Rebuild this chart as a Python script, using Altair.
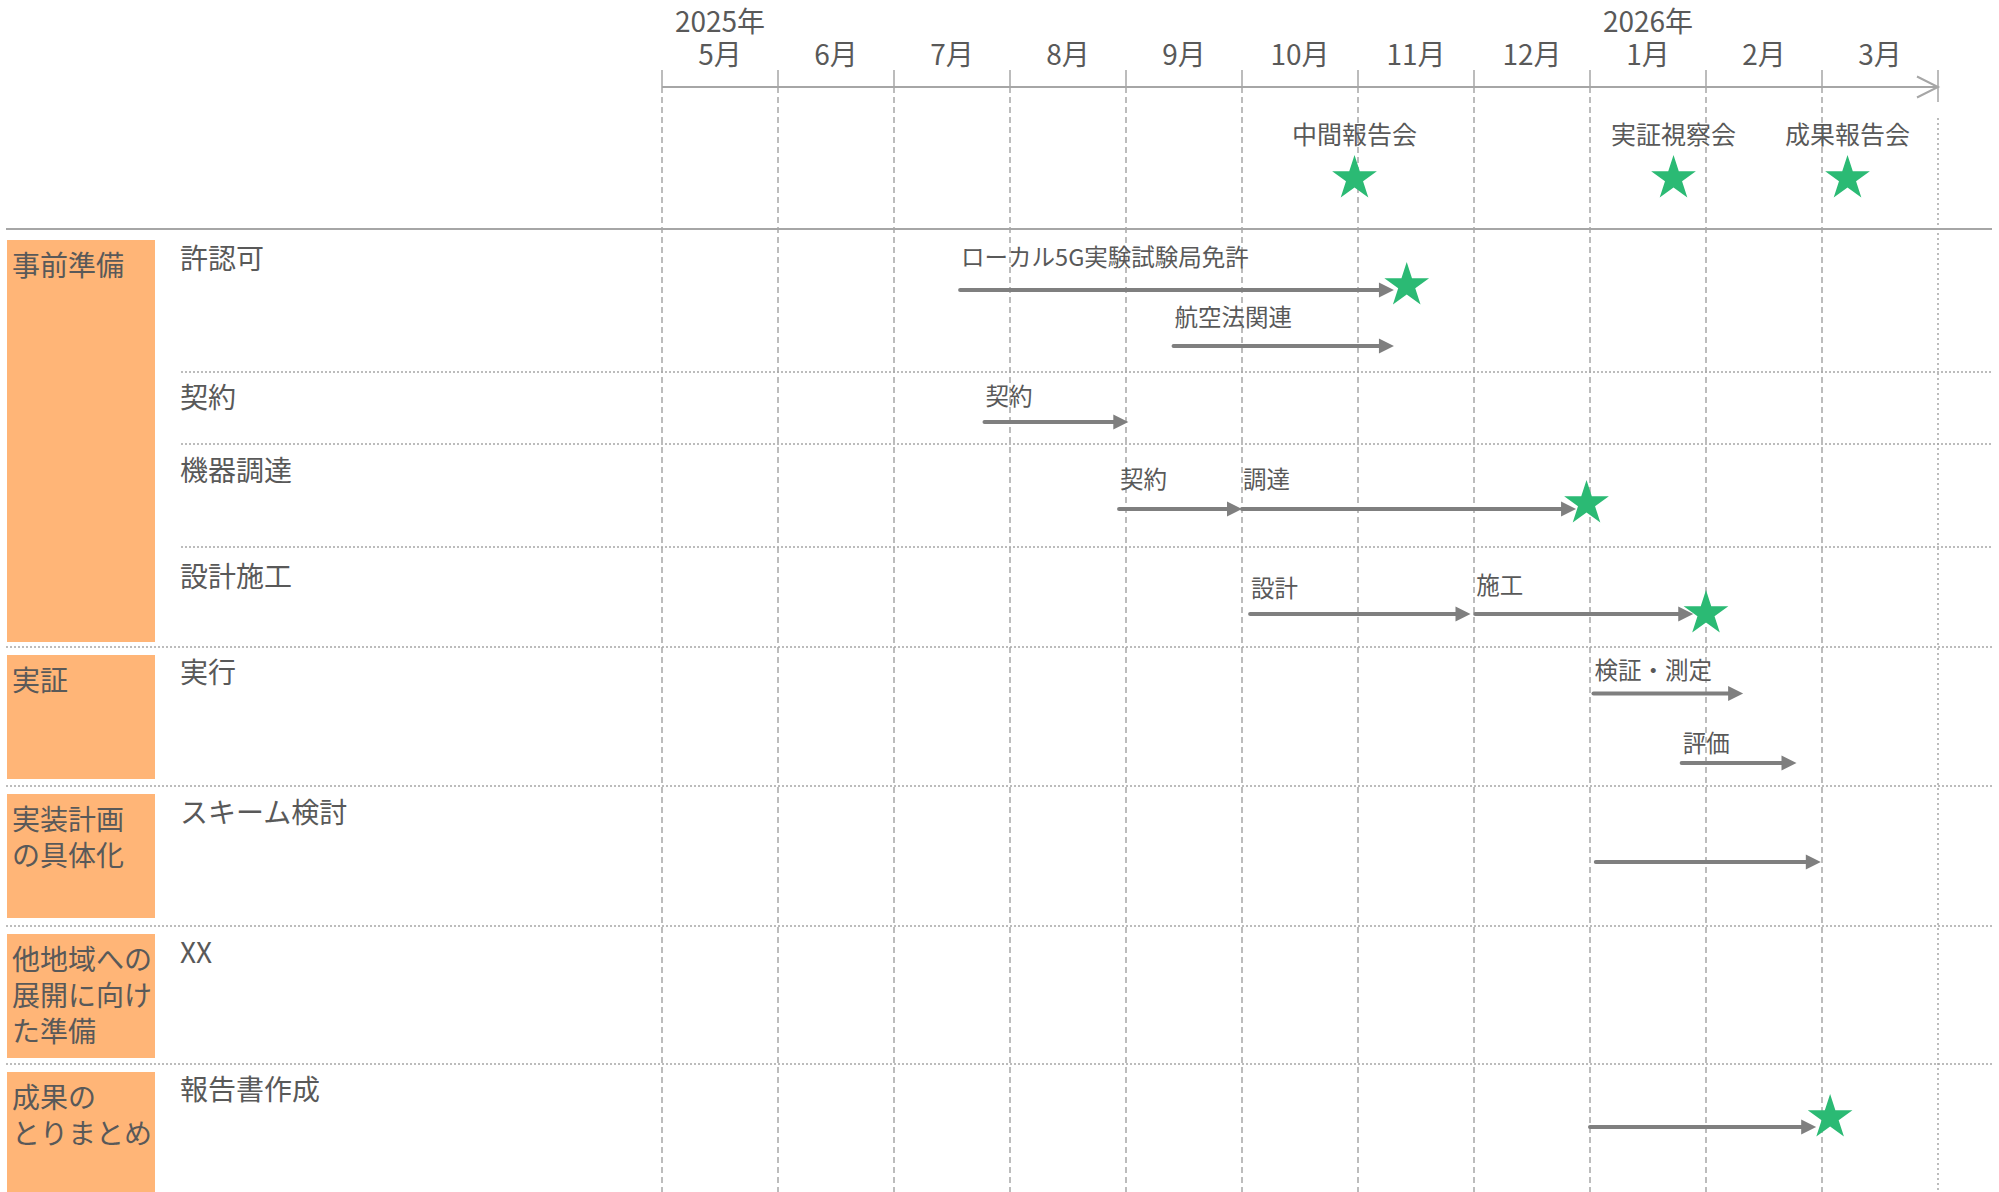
import math
import altair as alt
import pandas as pd

# ---------------- data ----------------
months = ["5月", "6月", "7月", "8月", "9月", "10月", "11月", "12月", "1月", "2月", "3月"]
years = ["2025年", "2026年"]
year_month = [0, 8]

categories = ["事前準備", "実証", "実装計画\nの具体化", "他地域への\n展開に向け\nた準備", "成果の\nとりまとめ"]
tasks = ["許認可", "契約", "機器調達", "設計施工", "実行", "スキーム検討", "XX", "報告書作成"]

bar_labels = ["ローカル5G実験試験局免許", "航空法関連", "契約", "契約", "調達", "設計", "施工",
              "検証・測定", "評価", "", ""]
bar_task = ["許認可", "許認可", "契約", "機器調達", "機器調達", "設計施工", "設計施工",
            "実行", "実行", "スキーム検討", "報告書作成"]
bar_start = [2.57, 4.41, 2.78, 3.94, 5.00, 5.07, 7.01, 8.03, 8.79, 8.05, 8.00]
bar_end = [6.31, 6.31, 4.02, 5.00, 7.88, 6.97, 8.89, 9.32, 9.78, 9.99, 9.95]

deadline_task = ["許認可", "機器調達", "設計施工", "報告書作成"]
deadline_month = [6.42, 7.97, 9.00, 10.07]

milestone_labels = ["中間報告会", "実証視察会", "成果報告会"]
milestone_month = [5.97, 8.72, 10.22]

# ---------------- layout (pixels) ----------------
W, H = 1999, 1192
X0, MPX = 662, 116            # pixel of May start, pixels per month
AXIS_Y = 87
YEAR_Y, MONTH_Y = 23.5, 56.5
MS_LABEL_Y, MS_STAR_Y = 136, 178.5
HEADER_SEP_Y = 229
task_label_y = [261, 400, 473, 579, 675, 814.5, 955, 1092]
inner_sep_y = [372, 444, 547]
outer_sep_y = [647, 786, 926, 1064]
cat_top = [240, 655, 794, 934, 1072]
cat_bottom = [642, 779, 918, 1058, 1200]
bar_y = [290, 346, 422, 509, 509, 614, 614, 693.5, 763, 862, 1127]
bar_label_y = [259, 319, 398, 481, 481, 590, 587, 672, 745, 0, 0]
deadline_y = [285.5, 503.5, 613.5, 1117.5]

FONT = "Noto Sans CJK JP"
TXT = "#595959"
GRID = "#A6A6A6"
ARROW = "#7F7F7F"
GREEN = "#2BBA74"
ORANGE = "#FFB577"

xs = alt.Scale(domain=[-X0 / MPX, (W - X0) / MPX], nice=False, zero=False)
ys = alt.Scale(domain=[0, H], reverse=True, nice=False, zero=False)


def X(f):
    return alt.X(f, type="quantitative", scale=xs, axis=None)


def Y(f):
    return alt.Y(f, type="quantitative", scale=ys, axis=None)


# star path in unit space
pts = []
for i in range(10):
    r = 1.0 if i % 2 == 0 else 0.382
    a = math.radians(-90 + 36 * i)
    pts.append(f"{r * math.cos(a):.4f} {r * math.sin(a):.4f}")
STAR = "M " + " L ".join(pts) + " Z"
HEAD = "M -2 -1 L 0 0 L -2 1 Z"
CHEVRON = "M -2 -1 L 0 0 L -2 1"

# ---------------- frames ----------------
grid_df = pd.DataFrame({"m": list(range(len(months))), "y0": AXIS_Y, "y1": H, "t0": 70})
end_df = pd.DataFrame({"m": [len(months)], "y0": [118], "y1": [H], "t0": [70], "t1": [102]})
axis_df = pd.DataFrame({"m0": [0], "m1": [len(months)], "y": [AXIS_Y]})

month_df = pd.DataFrame({"label": months, "m": [i + 0.5 for i in range(len(months))], "y": MONTH_Y})
year_df = pd.DataFrame({"label": years, "m": [i + 0.5 for i in year_month], "y": YEAR_Y})
ms_df = pd.DataFrame({"label": milestone_labels, "m": milestone_month,
                      "ly": MS_LABEL_Y, "sy": MS_STAR_Y})

cat_df = pd.DataFrame({"label": categories, "top": cat_top, "bottom": cat_bottom,
                       "ty": [t + 14 for t in cat_top]})
task_df = pd.DataFrame({"label": tasks, "y": task_label_y})
inner_df = pd.DataFrame({"y": inner_sep_y})
outer_df = pd.DataFrame({"y": outer_sep_y})
head_sep_df = pd.DataFrame({"y": [HEADER_SEP_Y]})

bar_df = pd.DataFrame({"label": bar_labels, "task": bar_task, "start": bar_start, "end": bar_end,
                       "y": bar_y, "ly": bar_label_y})
bar_df["line_end"] = bar_df["end"] - 10 / MPX
dl_df = pd.DataFrame({"task": deadline_task, "m": deadline_month, "y": deadline_y})

# ---------------- layers ----------------
grid = alt.Chart(grid_df).mark_rule(color=GRID, strokeWidth=1.5, strokeDash=[6, 4]).encode(
    x=X("m"), y=Y("y0"), y2="y1")
ticks = alt.Chart(grid_df).mark_rule(color=GRID, strokeWidth=1.5).encode(
    x=X("m"), y=Y("t0"), y2="y0")
end_dots = alt.Chart(end_df).mark_rule(color=GRID, strokeWidth=1.5, strokeDash=[2, 3]).encode(
    x=X("m"), y=Y("y0"), y2="y1")
end_tick = alt.Chart(end_df).mark_rule(color=GRID, strokeWidth=1.5).encode(
    x=X("m"), y=Y("t0"), y2="t1")
axis_line = alt.Chart(axis_df).mark_rule(color=GRID, strokeWidth=2).encode(
    x=X("m0"), x2="m1", y=Y("y"))
chevron = alt.Chart(axis_df).mark_point(shape=CHEVRON, filled=False, size=441, color=GRID,
                                        strokeWidth=2, opacity=1).encode(x=X("m1"), y=Y("y"))

head_sep = alt.Chart(head_sep_df).mark_rule(color=GRID, strokeWidth=2).encode(
    y=Y("y"), x=alt.value(6), x2=alt.value(1992))
inner_sep = alt.Chart(inner_df).mark_rule(color=GRID, strokeWidth=1.5, strokeDash=[2, 2]).encode(
    y=Y("y"), x=alt.value(181), x2=alt.value(1992))
outer_sep = alt.Chart(outer_df).mark_rule(color=GRID, strokeWidth=1.5, strokeDash=[2, 2]).encode(
    y=Y("y"), x=alt.value(6), x2=alt.value(1992))

cat_boxes = alt.Chart(cat_df).mark_rect(color=ORANGE).encode(
    x=alt.value(7), x2=alt.value(155), y=Y("top"), y2="bottom")
cat_text = alt.Chart(cat_df).mark_text(align="left", baseline="top", font=FONT, fontSize=28,
                                       color=TXT, lineBreak="\n", lineHeight=36).encode(
    x=alt.value(12), y=Y("ty"), text="label")
task_text = alt.Chart(task_df).mark_text(align="left", baseline="middle", font=FONT, fontSize=28,
                                         color=TXT).encode(
    x=alt.value(180), y=Y("y"), text="label")

month_text = alt.Chart(month_df).mark_text(align="center", baseline="middle", font=FONT,
                                           fontSize=28, color=TXT).encode(
    x=X("m"), y=Y("y"), text="label")
year_text = alt.Chart(year_df).mark_text(align="center", baseline="middle", font=FONT,
                                         fontSize=28, color=TXT).encode(
    x=X("m"), y=Y("y"), text="label")
ms_text = alt.Chart(ms_df).mark_text(align="center", baseline="middle", font=FONT,
                                     fontSize=25, color=TXT).encode(
    x=X("m"), y=Y("ly"), text="label")
ms_star = alt.Chart(ms_df).mark_point(shape=STAR, filled=True, size=2209, color=GREEN,
                                      opacity=1, strokeWidth=0).encode(x=X("m"), y=Y("sy"))

bar_lines = alt.Chart(bar_df).mark_rule(color=ARROW, strokeWidth=4, strokeCap="round").encode(
    x=X("start"), x2="line_end", y=Y("y"))
bar_heads = alt.Chart(bar_df).mark_point(shape=HEAD, filled=True, size=225, color=ARROW,
                                         opacity=1, strokeWidth=0).encode(x=X("end"), y=Y("y"))
bar_text = alt.Chart(bar_df).transform_filter("datum.label != ''").mark_text(
    align="left", baseline="middle", font=FONT, fontSize=23.5, color=TXT, dx=1).encode(
    x=X("start"), y=Y("ly"), text="label")
dl_star = alt.Chart(dl_df).mark_point(shape=STAR, filled=True, size=2209, color=GREEN,
                                      opacity=1, strokeWidth=0).encode(x=X("m"), y=Y("y"))

chart = alt.layer(
    cat_boxes, grid, ticks, end_dots, end_tick, axis_line, chevron,
    head_sep, inner_sep, outer_sep,
    cat_text, task_text, month_text, year_text, ms_text,
    bar_lines, bar_heads, bar_text, ms_star, dl_star,
).properties(
    width=W, height=H,
    autosize=alt.AutoSizeParams(type="none"),
    padding=0,
    background="white",
).configure_view(stroke=None)

chart.save("out.html", embed_options={"renderer": "svg", "actions": False})
